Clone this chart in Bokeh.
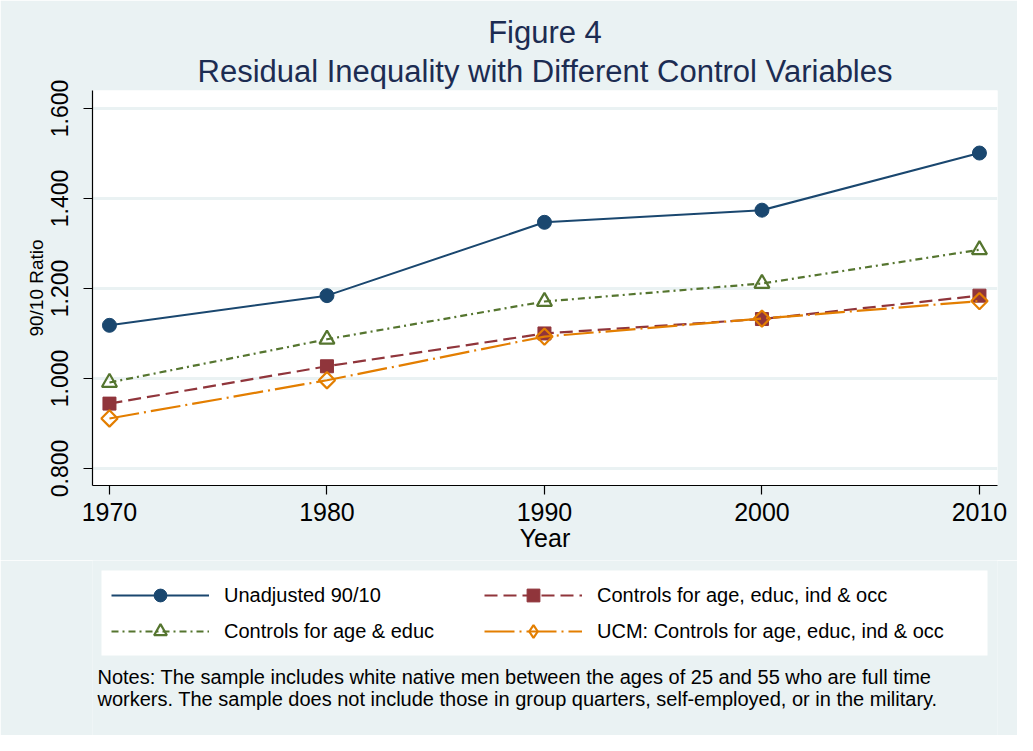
import math
from bokeh.plotting import figure
from bokeh.layouts import column
from bokeh.models import (Range1d, FixedTicker, NumeralTickFormatter, Legend, LegendItem,
                          Title, Label, BoxAnnotation, ColumnDataSource)
from bokeh.embed import file_html
from bokeh.resources import INLINE

# ---- data ----
years = [1970, 1980, 1990, 2000, 2010]
unadjusted = [1.118, 1.184, 1.347, 1.374, 1.501]
age_educ = [0.991, 1.087, 1.171, 1.211, 1.286]
age_educ_ind_occ = [0.944, 1.027, 1.100, 1.132, 1.184]
ucm = [0.911, 0.996, 1.093, 1.133, 1.172]

series_labels = ["Unadjusted 90/10", "Controls for age, educ, ind & occ",
                 "Controls for age & educ", "UCM: Controls for age, educ, ind & occ"]
y_ticks = [0.8, 1.0, 1.2, 1.4, 1.6]
x_ticks = [1970, 1980, 1990, 2000, 2010]

title1 = "Figure 4"
title2 = "Residual Inequality with Different Control Variables"
note1 = "Notes: The sample includes white native men between the ages of 25 and 55 who are full time"
note2 = "workers. The sample does not include those in group quarters, self-employed, or in the military."

NAVY = "#1A476F"
MAROON = "#90353B"
GREEN = "#55752F"
ORANGE = "#E37E00"
BG = "#EAF2F3"
TITLE_C = "#1C2C52"
FONT = "Liberation Sans"

W = 1017
HA, HB = 560, 175

# ---------------- main plot ----------------
p = figure(width=W, height=HA, output_backend="svg", toolbar_location=None,
           x_range=Range1d(1969.22, 2010.83), y_range=Range1d(0.762, 1.64),
           min_border_left=92, min_border_right=20, min_border_top=90, min_border_bottom=75)
p.border_fill_color = BG
p.background_fill_color = "white"
p.outline_line_color = None

p.title.text = title1
p.title.align = "center"
p.title.text_font = FONT
p.title.text_font_size = "31px"
p.title.text_font_style = "normal"
p.title.text_color = TITLE_C
p.title.standoff = 0
p.add_layout(Title(text=title2, align="center", text_font=FONT, text_font_size="31px",
                   text_font_style="normal", text_color=TITLE_C, standoff=4), "above")

p.xaxis.ticker = FixedTicker(ticks=x_ticks)
p.yaxis.ticker = FixedTicker(ticks=y_ticks)
p.yaxis.formatter = NumeralTickFormatter(format="0.000")
p.yaxis.major_label_orientation = "vertical"
for ax in (p.xaxis[0], p.yaxis[0]):
    ax.axis_line_color = "black"
    ax.axis_line_width = 1.2
    ax.major_tick_line_color = "black"
    ax.major_tick_line_width = 1.2
    ax.major_tick_in = 0
    ax.major_tick_out = 9
    ax.minor_tick_line_color = None
    ax.major_label_text_font = FONT
    ax.major_label_text_color = "black"
    ax.axis_label_text_font = FONT
    ax.axis_label_text_font_style = "normal"
    ax.axis_label_text_color = "black"
p.xaxis.major_label_text_font_size = "25px"
p.xaxis.axis_label = "Year"
p.xaxis.axis_label_text_font_size = "25px"
p.xaxis.major_label_standoff = 8
p.xaxis.axis_label_standoff = 0
p.yaxis.major_label_text_font_size = "23px"
p.yaxis.axis_label = "90/10 Ratio"
p.yaxis.axis_label_text_font_size = "19px"
p.yaxis.major_label_standoff = 15
p.yaxis.axis_label_standoff = 2

p.xgrid.grid_line_color = None
p.ygrid.grid_line_color = BG
p.ygrid.grid_line_width = 3

src = ColumnDataSource(dict(x=years, a=unadjusted, b=age_educ_ind_occ, c=age_educ, d=ucm))

# column, colour, dash, width, marker(plot), size, fill, angle, marker(legend)
STYLES = [
    ("a", NAVY, None, 2.0, "circle", 14, NAVY, 0.0, "circle"),
    ("b", MAROON, "13 6", 2.2, "square", 13, MAROON, 0.0, "square"),
    ("c", GREEN, "7 4 2 4", 2.2, "triangle", 15, None, 0.0, "triangle"),
    ("d", ORANGE, "30 5 2 5", 2.2, "square", 11.5, None, math.pi / 4, "diamond"),
]


def draw(fig, for_legend=False):
    out = []
    for col, color, dash, lw, marker, size, fill, ang, lmarker in STYLES:
        kw = dict(line_color=color, line_width=lw)
        if dash:
            kw["line_dash"] = dash
        ln = fig.line("x", col, source=src, **kw)
        sc = fig.scatter("x", col, source=src, marker=lmarker if for_legend else marker,
                         size=size, angle=0.0 if for_legend else ang,
                         fill_color=fill, line_color=color,
                         line_width=2.2 if fill is None else 1)
        out.append([ln, sc])
    return out


draw(p)

# ---------------- legend + notes panel ----------------
q = figure(width=W, height=HB, output_backend="svg", toolbar_location=None,
           x_range=Range1d(0, 1), y_range=Range1d(0, 1), x_axis_type=None, y_axis_type=None,
           min_border_left=0, min_border_right=0, min_border_top=0, min_border_bottom=0)
q.border_fill_color = BG
q.background_fill_color = BG
q.outline_line_color = None
q.grid.visible = False
rq = draw(q, for_legend=True)  # outside q's visible range; only used for legend samples

q.add_layout(BoxAnnotation(left=9, right=895, bottom=80, top=165,
                           left_units="screen", right_units="screen",
                           bottom_units="screen", top_units="screen",
                           fill_color="white", fill_alpha=1, line_color=None, level="underlay"))

legend = Legend(items=[
    LegendItem(label=series_labels[0], renderers=rq[0]),
    LegendItem(label=series_labels[1], renderers=rq[1]),
    LegendItem(label=series_labels[2], renderers=rq[2]),
    LegendItem(label=series_labels[3], renderers=rq[3]),
], ncols=2, location=(19, 88), orientation="horizontal")
legend.glyph_width = 98
legend.glyph_height = 32
legend.label_height = 32
legend.label_width = 256
legend.label_standoff = 15
legend.spacing = 4
legend.padding = 0
legend.margin = 0
legend.label_text_font = FONT
legend.label_text_font_size = "20px"
legend.label_text_color = "black"
legend.background_fill_alpha = 0
legend.border_line_color = None
q.add_layout(legend, "center")

for txt, yy in ((note1, 59), (note2, 37)):
    q.add_layout(Label(x=5, y=yy, x_units="screen", y_units="screen", text=txt,
                       text_align="left", text_baseline="alphabetic", text_font=FONT,
                       text_font_size="20px", text_color="black"))

layout = column(p, q, spacing=0)
open("out.html", "w").write(file_html(layout, INLINE))
